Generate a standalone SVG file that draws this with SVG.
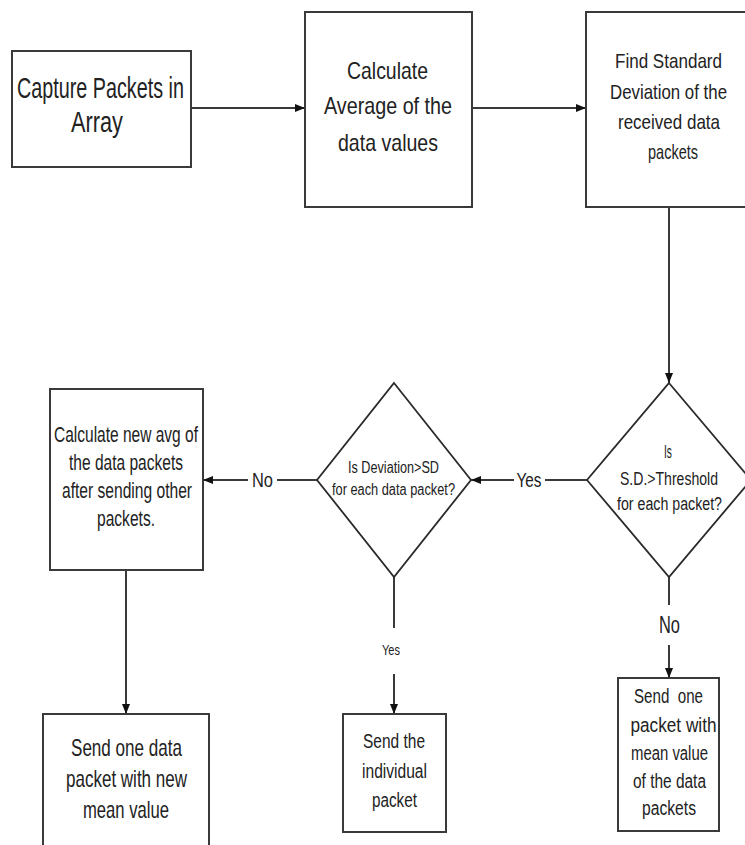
<svg xmlns="http://www.w3.org/2000/svg" width="745" height="845" viewBox="0 0 745 845">
  <style>
    .box { fill: #ffffff; stroke: #3a3a3a; stroke-width: 2; }
    .dia { fill: #ffffff; stroke: #2a2a2a; stroke-width: 1.8; }
    .edge { fill: none; stroke: #3a3a3a; stroke-width: 2; }
    text { font-family: "Liberation Sans Narrow", "Liberation Sans", Arial, sans-serif; fill: #222222; text-anchor: middle; }
    .pre { white-space: pre; }
  </style>
  <defs>
    <marker id="arrow" viewBox="0 0 10 10" refX="10" refY="5" markerWidth="10" markerHeight="10" markerUnits="userSpaceOnUse" orient="auto">
      <path d="M0,1 L10,5 L0,9 z" fill="#111111"/>
    </marker>
  </defs>
  <rect width="745" height="845" fill="#ffffff"/>

  <!-- connectors -->
  <g id="connectors">
    <line class="edge" x1="191" y1="108" x2="305" y2="108" marker-end="url(#arrow)"/>
    <line class="edge" x1="472" y1="108" x2="586" y2="108" marker-end="url(#arrow)"/>
    <line class="edge" x1="669" y1="207" x2="669" y2="383" marker-end="url(#arrow)"/>
    <!-- Yes: threshold decision to deviation decision -->
    <line class="edge" x1="587" y1="480" x2="545" y2="480"/>
    <line class="edge" x1="514" y1="480" x2="471" y2="480" marker-end="url(#arrow)"/>
    <text x="529" y="487" font-size="21" textLength="25" lengthAdjust="spacingAndGlyphs">Yes</text>
    <!-- No: deviation decision to new average -->
    <line class="edge" x1="317" y1="480" x2="277" y2="480"/>
    <line class="edge" x1="248" y1="480" x2="203" y2="480" marker-end="url(#arrow)"/>
    <text x="262.5" y="487" font-size="20" textLength="21" lengthAdjust="spacingAndGlyphs">No</text>
    <!-- new average to send new mean -->
    <line class="edge" x1="126" y1="570" x2="126" y2="714" marker-end="url(#arrow)"/>
    <!-- Yes: deviation decision to individual packet -->
    <line class="edge" x1="394" y1="577" x2="394" y2="628"/>
    <line class="edge" x1="394" y1="674" x2="394" y2="714" marker-end="url(#arrow)"/>
    <text x="391" y="655" font-size="15" textLength="18" lengthAdjust="spacingAndGlyphs">Yes</text>
    <!-- No: threshold decision to mean packet -->
    <line class="edge" x1="669" y1="577" x2="669" y2="605"/>
    <line class="edge" x1="669" y1="645" x2="669" y2="678" marker-end="url(#arrow)"/>
    <text x="669.5" y="633" font-size="23" textLength="21" lengthAdjust="spacingAndGlyphs">No</text>
  </g>

  <g id="capture">
    <rect class="box" x="12" y="51" width="179" height="116" stroke-width="2.5"/>
    <text x="100.5" y="98" font-size="29" textLength="167" lengthAdjust="spacingAndGlyphs">Capture Packets in</text>
    <text x="97" y="132" font-size="29" textLength="52" lengthAdjust="spacingAndGlyphs">Array</text>
  </g>

  <g id="average">
    <rect class="box" x="305" y="12" width="167" height="195"/>
    <text x="387.5" y="79" font-size="24" textLength="81" lengthAdjust="spacingAndGlyphs">Calculate</text>
    <text x="388" y="114" font-size="24" textLength="128" lengthAdjust="spacingAndGlyphs">Average of the</text>
    <text x="388" y="151" font-size="24" textLength="100" lengthAdjust="spacingAndGlyphs">data values</text>
  </g>

  <g id="stddev">
    <rect class="box" x="586" y="12" width="166" height="195"/>
    <text x="668.5" y="68" font-size="21" textLength="107" lengthAdjust="spacingAndGlyphs">Find Standard</text>
    <text x="668.5" y="99" font-size="21" textLength="117" lengthAdjust="spacingAndGlyphs">Deviation of the</text>
    <text x="669" y="129" font-size="21" textLength="102" lengthAdjust="spacingAndGlyphs">received data</text>
    <text x="673" y="159" font-size="21" textLength="50" lengthAdjust="spacingAndGlyphs">packets</text>
  </g>

  <g id="threshold-check">
    <polygon class="dia" points="669,383 751,480 669,577 587,480"/>
    <text x="668" y="458" font-size="18" textLength="8" lengthAdjust="spacingAndGlyphs">Is</text>
    <text x="669" y="485" font-size="18" textLength="98" lengthAdjust="spacingAndGlyphs">S.D.&gt;Threshold</text>
    <text x="669.5" y="510" font-size="18" textLength="105" lengthAdjust="spacingAndGlyphs">for each packet?</text>
  </g>

  <g id="deviation-check">
    <polygon class="dia" points="394,383 471,480 394,577 317,480"/>
    <text x="393.5" y="473" font-size="16" textLength="91" lengthAdjust="spacingAndGlyphs">Is Deviation&gt;SD</text>
    <text x="393.5" y="495" font-size="16" textLength="123" lengthAdjust="spacingAndGlyphs">for each data packet?</text>
  </g>

  <g id="new-average">
    <rect class="box" x="50" y="389" width="153" height="181" stroke-width="2.5"/>
    <text x="126" y="442" font-size="22" textLength="144" lengthAdjust="spacingAndGlyphs">Calculate new avg of</text>
    <text x="126" y="470" font-size="22" textLength="114" lengthAdjust="spacingAndGlyphs">the data packets</text>
    <text x="127" y="498" font-size="22" textLength="130" lengthAdjust="spacingAndGlyphs">after sending other</text>
    <text x="126" y="526" font-size="22" textLength="58" lengthAdjust="spacingAndGlyphs">packets.</text>
  </g>

  <g id="send-new-mean">
    <rect class="box" x="43" y="714" width="166" height="140"/>
    <text x="126.5" y="756" font-size="24" textLength="111" lengthAdjust="spacingAndGlyphs">Send one data</text>
    <text x="126.5" y="787" font-size="24" textLength="121" lengthAdjust="spacingAndGlyphs">packet with new</text>
    <text x="126" y="818" font-size="24" textLength="86" lengthAdjust="spacingAndGlyphs">mean value</text>
  </g>

  <g id="send-individual">
    <rect class="box" x="343" y="714" width="103" height="118"/>
    <text x="394" y="748" font-size="20" textLength="62" lengthAdjust="spacingAndGlyphs">Send the</text>
    <text x="394.5" y="778" font-size="20" textLength="65" lengthAdjust="spacingAndGlyphs">individual</text>
    <text x="394.5" y="807" font-size="20" textLength="45" lengthAdjust="spacingAndGlyphs">packet</text>
  </g>

  <g id="send-mean">
    <rect class="box" x="618" y="678" width="101" height="153"/>
    <text class="pre" x="668.5" y="703" font-size="20" textLength="69" lengthAdjust="spacingAndGlyphs">Send  one</text>
    <text x="673.5" y="732" font-size="20" textLength="86" lengthAdjust="spacingAndGlyphs">packet with</text>
    <text x="669.5" y="760" font-size="20" textLength="77" lengthAdjust="spacingAndGlyphs">mean value</text>
    <text x="669.5" y="788" font-size="20" textLength="73" lengthAdjust="spacingAndGlyphs">of the data</text>
    <text x="669" y="815" font-size="20" textLength="54" lengthAdjust="spacingAndGlyphs">packets</text>
  </g>
</svg>
